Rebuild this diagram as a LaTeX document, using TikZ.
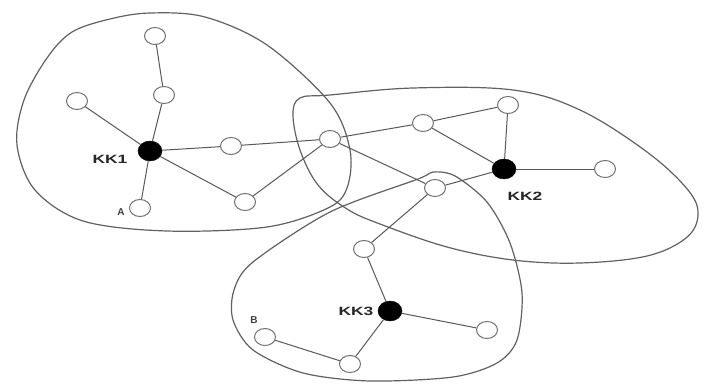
\documentclass[tikz,border=0pt]{standalone}
\usepackage{fontspec}
\setmainfont{Liberation Sans}
\usetikzlibrary{shapes.geometric}
\tikzset{
  region/.style={draw=black!62, line width=1.2pt},
  member/.style={ellipse, draw=black!55, line width=1pt, minimum width=21pt, minimum height=17pt, inner sep=0pt},
  head/.style={ellipse, fill=black, draw=black, minimum width=24pt, minimum height=20pt, inner sep=0pt},
  link/.style={draw=black!65, line width=1pt},
  tag/.style={font=\fontsize{12}{12}\selectfont\bfseries, text=black!85, inner sep=0pt},
  smalltag/.style={font=\fontsize{10}{10}\selectfont\bfseries, text=black!75, inner sep=0pt}
}
\begin{document}
\begin{tikzpicture}[x=1pt, y=-1pt]
\useasboundingbox (0,0) rectangle (703,385);
\fill[white] (0,0) rectangle (703,385);

% cluster boundaries
\draw[region] plot[smooth cycle, tension=0.55] coordinates {
  (72,32) (110,19) (150,13) (205,17) (267,45) (330,103) (350,150) (347,188) (328,208)
  (267,227) (167,231) (83,221) (35,190) (17,145) (24,100) (47,58)};
\draw[region] plot[smooth cycle, tension=0.6] coordinates {
  (300,98) (330,95) (413,88) (513,90) (580,110) (647,152) (688,190) (698,215)
  (686,238) (647,256) (580,263) (513,260) (447,247) (380,224) (347,209)
  (318,185) (300,150) (293,115)};
\draw[region] plot[smooth cycle, tension=0.5] coordinates {
  (433,172) (455,176) (487,202) (510,243) (522,293) (517,340) (497,363)
  (453,377) (370,381) (303,373) (253,350) (233,320) (234,290) (253,262)
  (330,212) (418,179)};

% members of cluster KK1
\node[head]   (kkone) at (150,151) {};
\node[member] (ta)    at (155,36)  {};
\node[member] (tb)    at (164,95)  {};
\node[member] (tc)    at (77,101)  {};
\node[member] (pa)    at (140,208) {};
\node[member] (md)    at (231,146) {};
\node[member] (me)    at (245,202) {};
\node[member] (hub)   at (330,139) {};

% members of cluster KK2
\node[head]   (kktwo) at (504,169) {};
\node[member] (ra)    at (423,123) {};
\node[member] (rb)    at (508,105) {};
\node[member] (rc)    at (605,169) {};
\node[member] (rd)    at (435,188) {};

% members of cluster KK3
\node[head]   (kkthree) at (390,311) {};
\node[member] (sa)      at (364,249) {};
\node[member] (sb)      at (487,330) {};
\node[member] (sc)      at (350,364) {};
\node[member] (pb)      at (265,337) {};

% labels
\node[tag] (lone)   at (110,159) {\scalebox{1.45}[1]{KK1}};
\node[tag] (ltwo)   at (525,196) {\scalebox{1.45}[1]{KK2}};
\node[tag] (lthree) at (356,311) {\scalebox{1.45}[1]{KK3}};
\node[smalltag] (la) at (121,212) {A};
\node[smalltag] (lb) at (254,320) {B};

% links
\draw[link] (ta) -- (tb);
\draw[link] (tb) -- (kkone);
\draw[link] (tc) -- (kkone);
\draw[link] (kkone) -- (pa);
\draw[link] (kkone) -- (md);
\draw[link] (md) -- (hub);
\draw[link] (kkone) -- (me);
\draw[link] (me) -- (hub);
\draw[link] (hub) -- (ra);
\draw[link] (ra) -- (rb);
\draw[link] (rb) -- (kktwo);
\draw[link] (ra) -- (kktwo);
\draw[link] (kktwo) -- (rc);
\draw[link] (hub) -- (rd);
\draw[link] (kktwo) -- (rd);
\draw[link] (rd) -- (sa);
\draw[link] (sa) -- (kkthree);
\draw[link] (kkthree) -- (sb);
\draw[link] (kkthree) -- (sc);
\draw[link] (sc) -- (pb);
\end{tikzpicture}
\end{document}
